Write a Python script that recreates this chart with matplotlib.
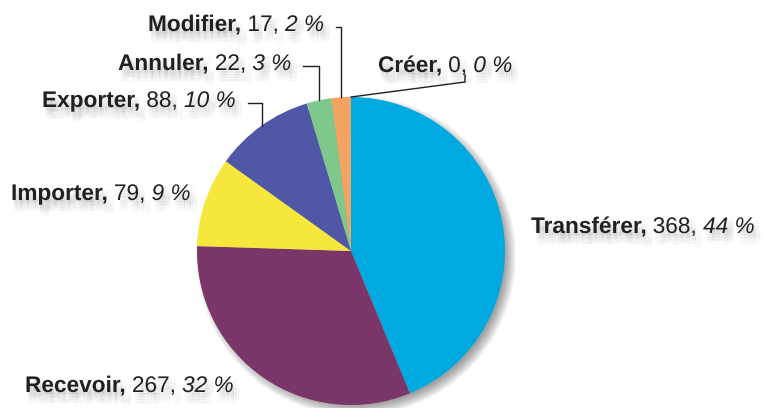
import matplotlib.pyplot as plt
import matplotlib.patheffects as pe
from matplotlib.patches import Circle
import numpy as np

labels = ["Transférer", "Recevoir", "Importer", "Exporter", "Annuler", "Modifier", "Créer"]
values = [368, 267, 79, 88, 22, 17, 0]
colors = ["#00A9E0", "#7B3669", "#F6E73C", "#4F57A6", "#7DC88A", "#F3A463", "#E8E8E8"]

# label placement (left x, baseline y in image pixels) and whether a leader line is drawn
label_pos = {
    "Transférer": (531, 233),
    "Recevoir": (25, 392),
    "Importer": (11, 200),
    "Exporter": (42, 107),
    "Annuler": (118, 70),
    "Modifier": (148, 31),
    "Créer": (378, 72),
}
leader = {"Exporter", "Annuler", "Modifier"}

W, H = 765, 408
cx, cy, r = 351, H - 251, 154
FS = 16.3
TXT = "#231F20"

fig = plt.figure(figsize=(W / 100, H / 100), dpi=100)
ax = fig.add_axes([0, 0, 1, 1])
ax.set_xlim(0, W)
ax.set_ylim(0, H)
ax.axis("off")

# soft shadow under the pie
for i in range(12):
    ax.add_patch(Circle((cx + 5, cy - 5), r + 6 - i, color="black", alpha=0.035, lw=0, zorder=1))

wedges, _ = ax.pie(values, colors=colors, startangle=90, counterclock=False,
                   center=(cx, cy), radius=r, wedgeprops=dict(linewidth=0))
for w in wedges:
    w.set_zorder(2)
ax.set_xlim(0, W)
ax.set_ylim(0, H)
ax.set_aspect("equal")

# blurry drop shadow behind text
offs = [(dx, dy) for dx in (1, 3, 5) for dy in (2, 4, 6, 8)]
shadow = [pe.SimplePatchShadow(offset=(dx, -dy), shadow_rgbFace="black", alpha=0.025)
          for dx, dy in offs] + [pe.Normal()]

fig.canvas.draw()
renderer = fig.canvas.get_renderer()

total = sum(values)
cum = np.cumsum([0] + values)
for i, name in enumerate(labels):
    v = values[i]
    pct = round(100 * v / total)
    x, yb = label_pos[name]
    y = H - yb
    pieces = [(name + ",", "bold", "normal"), (" %d," % v, "normal", "normal"),
              (" %d %%" % pct, "normal", "italic")]
    xx = x
    for s, wt, st in pieces:
        t = ax.text(xx, y, s, fontsize=FS, fontweight=wt, fontstyle=st,
                    family="Liberation Sans", color=TXT, ha="left", va="baseline",
                    zorder=5, path_effects=shadow)
        bb = t.get_window_extent(renderer)
        xx = bb.x1
    # rim point at mid angle of the slice
    mid = 90 - 360 * (cum[i] + v / 2) / total
    rx = cx + r * np.cos(np.radians(mid))
    ry = cy + r * np.sin(np.radians(mid))
    if name in leader:
        ly = y + 4
        ax.plot([xx + 12, rx, rx], [ly, ly, ry], color=TXT, lw=1, zorder=4)
    elif name == "Créer":
        ax.plot([cx, 465, 465], [cy + r, H - 82, H - 75], color=TXT, lw=1, zorder=4)

plt.savefig("out.png", format="png", dpi=100)
plt.close()
